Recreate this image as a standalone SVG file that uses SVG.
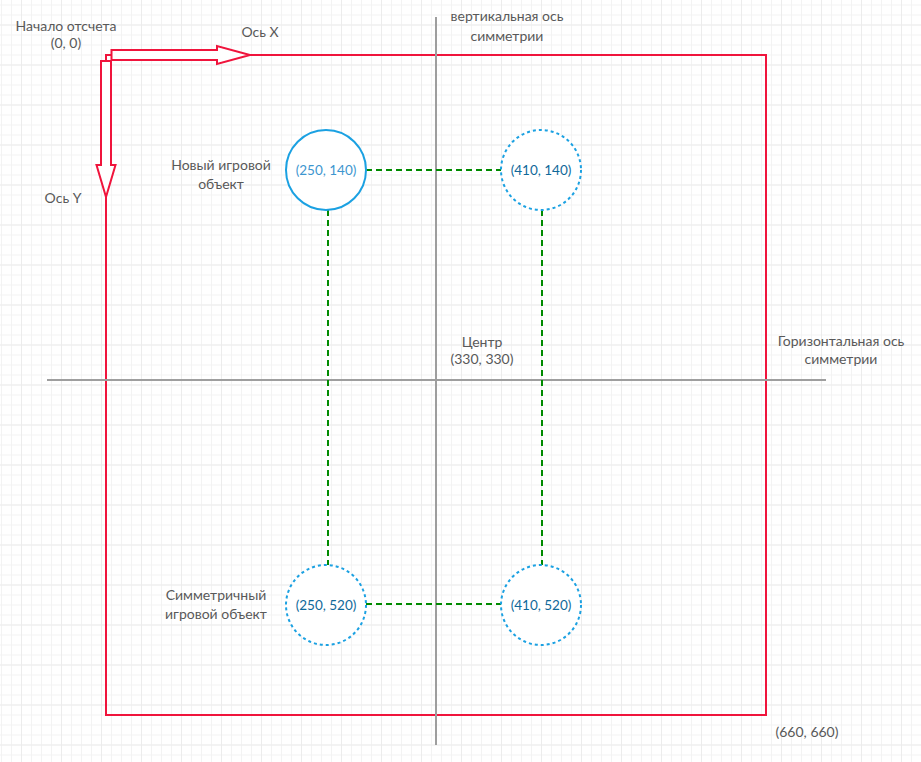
<svg xmlns="http://www.w3.org/2000/svg" width="921" height="762" viewBox="0 0 921 762">
<defs>
<pattern id="minor" width="10" height="10" patternUnits="userSpaceOnUse" x="1" y="4.5">
<path d="M0.5 0V10M0 0.5H10" stroke="#f3f3f3" stroke-width="1" fill="none"/>
</pattern>
<pattern id="major" width="40" height="40" patternUnits="userSpaceOnUse" x="21" y="24.5">
<path d="M0.5 0V40M0 0.5H40" stroke="#ececec" stroke-width="1" fill="none"/>
</pattern>
</defs>
<style>
text{font-family:Lato,"Open Sans","Liberation Sans",sans-serif;font-size:14px;fill:#595959;text-anchor:middle}
.axis{stroke:#9e9e9e;stroke-width:2;fill:none}
.red{stroke:#f0143c;stroke-width:2;fill:none}
.arrow{stroke:#f0143c;stroke-width:2;fill:#fff;stroke-linejoin:miter}
.solid{stroke:#1ba1e2;stroke-width:2;fill:#fff}
.dot{stroke:#1ba1e2;stroke-width:2;fill:#fff;stroke-dasharray:3 3}
.link{stroke:#008a00;stroke-width:2;fill:none;stroke-dasharray:6 4}
text.ctxt{fill:#10699a;font-size:13.5px}
text.ctxt2{fill:#3d96cf;font-size:13.5px}
</style>
<rect width="921" height="762" fill="#fff"/>
<rect width="921" height="762" fill="url(#minor)"/>
<rect width="921" height="762" fill="url(#major)"/>

<g id="frame">
<rect class="red" x="106" y="55" width="660" height="660"/>
</g>

<g id="axes">
<line class="axis" x1="436" y1="17" x2="436" y2="745"/>
<line class="axis" x1="47" y1="380" x2="826" y2="380"/>
</g>

<g id="arrow-x">
<polygon class="arrow" points="111.5,50 217,50 217,46 250,55 217,64 217,60 111.5,60"/>
</g>
<g id="arrow-y">
<polygon class="arrow" points="101,61 111,61 111,165 115.5,165 106,197 96.5,165 101,165"/>
</g>

<g id="connectors">
<line class="link" x1="366" y1="170" x2="501" y2="170"/>
<line class="link" x1="328" y1="210" x2="328" y2="565"/>
<line class="link" x1="542" y1="210" x2="542" y2="565"/>
<line class="link" x1="366" y1="604" x2="501" y2="604"/>
</g>

<g id="node-250-140">
<circle class="solid" cx="326" cy="170" r="40"/>
<text class="ctxt2" x="326" y="175">(250, 140)</text>
</g>
<g id="node-410-140">
<circle class="dot" cx="541" cy="170" r="40"/>
<text class="ctxt" x="541" y="175">(410, 140)</text>
</g>
<g id="node-250-520">
<circle class="dot" cx="326" cy="605" r="40"/>
<text class="ctxt" x="326" y="610">(250, 520)</text>
</g>
<g id="node-410-520">
<circle class="dot" cx="541" cy="605" r="40"/>
<text class="ctxt" x="541" y="610">(410, 520)</text>
</g>

<g id="labels">
<text x="66" y="31">Начало отсчета</text>
<text x="66" y="48">(0, 0)</text>
<text x="260" y="37">Ось X</text>
<text x="63" y="203">Ось Y</text>
<text x="221" y="170">Новый игровой</text>
<text x="221" y="189">объект</text>
<text x="507" y="21">вертикальная ось</text>
<text x="507" y="41">симметрии</text>
<text x="482" y="347">Центр</text>
<text x="482" y="364">(330, 330)</text>
<text x="841" y="346">Горизонтальная ось</text>
<text x="841" y="364">симметрии</text>
<text x="216" y="600">Симметричный</text>
<text x="216" y="619">игровой объект</text>
<text x="807" y="737">(660, 660)</text>
</g>
</svg>
